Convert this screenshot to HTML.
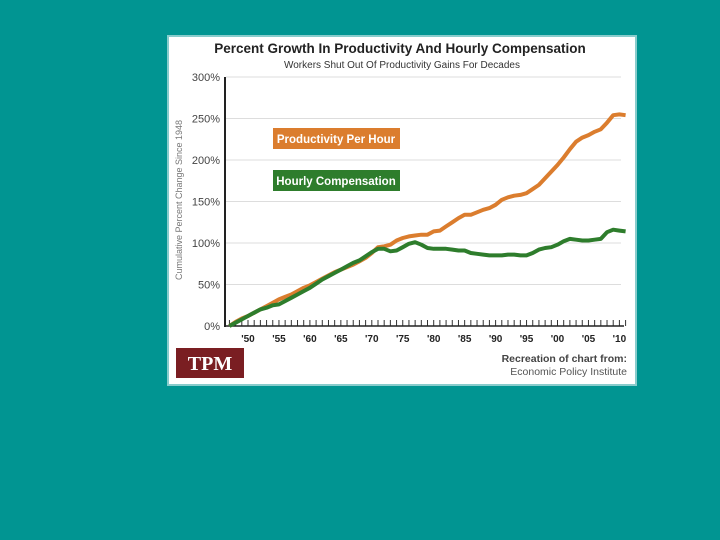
<!DOCTYPE html>
<html><head><meta charset="utf-8"><style>
body{margin:0;width:720px;height:540px;background:#019592;overflow:hidden;font-family:"Liberation Sans",sans-serif}
svg{position:absolute;left:0;top:0}
</style></head><body>
<svg width="720" height="540">
<rect x="168" y="36" width="468" height="349" fill="#fff" stroke="#8cc" stroke-width="2"/>
<text x="400" y="53" text-anchor="middle" font-size="13.5" font-weight="bold" fill="#222">Percent Growth In Productivity And Hourly Compensation</text>
<text x="402" y="68" text-anchor="middle" font-size="10" fill="#333">Workers Shut Out Of Productivity Gains For Decades</text>
<text transform="translate(182,200) rotate(-90)" text-anchor="middle" font-size="9" fill="#777">Cumulative Percent Change Since 1948</text>
<g id="grid"></g><g id="ticks"></g>
<line x1="225" y1="77" x2="225" y2="327" stroke="#222" stroke-width="2"/>
<line x1="225" y1="326" x2="624" y2="326" stroke="#222" stroke-width="1.5"/>
<path id="prod" fill="none" stroke="#db7d2e" stroke-width="4" stroke-linejoin="round"/>
<path id="comp" fill="none" stroke="#2e7d2c" stroke-width="4" stroke-linejoin="round"/>
<rect x="273" y="128" width="127" height="21" fill="#db7d2e"/>
<text x="336" y="143" text-anchor="middle" font-size="11.5" font-weight="bold" fill="#fff">Productivity Per Hour</text>
<rect x="273" y="170" width="127" height="21" fill="#2e7d2c"/>
<text x="336" y="185" text-anchor="middle" font-size="11.5" font-weight="bold" fill="#fff">Hourly Compensation</text>
<rect x="176" y="348" width="68" height="30" fill="#7a1e22"/>
<text x="210" y="370" text-anchor="middle" font-family="Liberation Serif,serif" font-size="20" font-weight="bold" fill="#fff">TPM</text>
<text x="627" y="362" text-anchor="end" font-size="10.5" font-weight="bold" fill="#444">Recreation of chart from:</text>
<text x="627" y="375" text-anchor="end" font-size="10.5" fill="#555">Economic Policy Institute</text>
</svg>
<script>
const years=[];for(let y=1947;y<=2011;y++)years.push(y);
const productivity=[0,5,9,12,16,20,24,28,32,35,38,42,46,49,53,57,61,65,68,71,74,78,82,88,95,96,98,103,106,108,109,110,110,114,115,120,125,130,134,134,137,140,142,146,152,155,157,158,160,165,170,178,186,194,203,213,222,227,230,234,237,245,254,255,254];
const compensation=[0,4,8,12,16,20,22,25,26,30,34,38,42,46,51,56,60,64,68,72,76,79,84,89,93,93,90,91,95,99,101,98,94,93,93,93,92,91,91,88,87,86,85,85,85,86,86,85,85,88,92,94,95,98,102,105,104,103,103,104,105,113,116,115,114];
const yTicks=[0,50,100,150,200,250,300];
const xLabels=[1950,1955,1960,1965,1970,1975,1980,1985,1990,1995,2000,2005,2010];
const NS='http://www.w3.org/2000/svg';
const xS=y=>248+(y-1950)*6.19, yS=v=>326-v*0.83;
const grid=document.getElementById('grid'),ticks=document.getElementById('ticks');
yTicks.forEach(v=>{
 if(v>0){const l=document.createElementNS(NS,'line');
 l.setAttribute('x1',226);l.setAttribute('x2',621);l.setAttribute('y1',yS(v));l.setAttribute('y2',yS(v));
 l.setAttribute('stroke','#ddd');
 
 grid.appendChild(l);}
 const t=document.createElementNS(NS,'text');
 t.setAttribute('x',220);t.setAttribute('y',yS(v)+4);t.setAttribute('text-anchor','end');
 t.setAttribute('font-size','11');t.setAttribute('fill','#444');t.textContent=v+'%';
 
 ticks.appendChild(t);
});
years.forEach(y=>{const l=document.createElementNS(NS,'line');
 l.setAttribute('x1',xS(y));l.setAttribute('x2',xS(y));l.setAttribute('y1',320);l.setAttribute('y2',326);
 l.setAttribute('stroke','#333');
 
 ticks.appendChild(l);});
xLabels.forEach(y=>{const t=document.createElementNS(NS,'text');
 t.setAttribute('x',xS(y));t.setAttribute('y',342);t.setAttribute('text-anchor','middle');
 t.setAttribute('font-size','10');t.setAttribute('font-weight','bold');t.setAttribute('fill','#222');
 t.textContent="'"+String(y).slice(2);
 
 ticks.appendChild(t);});
const path=a=>a.map((v,i)=>(i?'L':'M')+xS(years[i]).toFixed(1)+','+yS(v).toFixed(1)).join('');
document.getElementById('comp').setAttribute('d',path(compensation));
document.getElementById('prod').setAttribute('d',path(productivity));
</script>
</body></html>
